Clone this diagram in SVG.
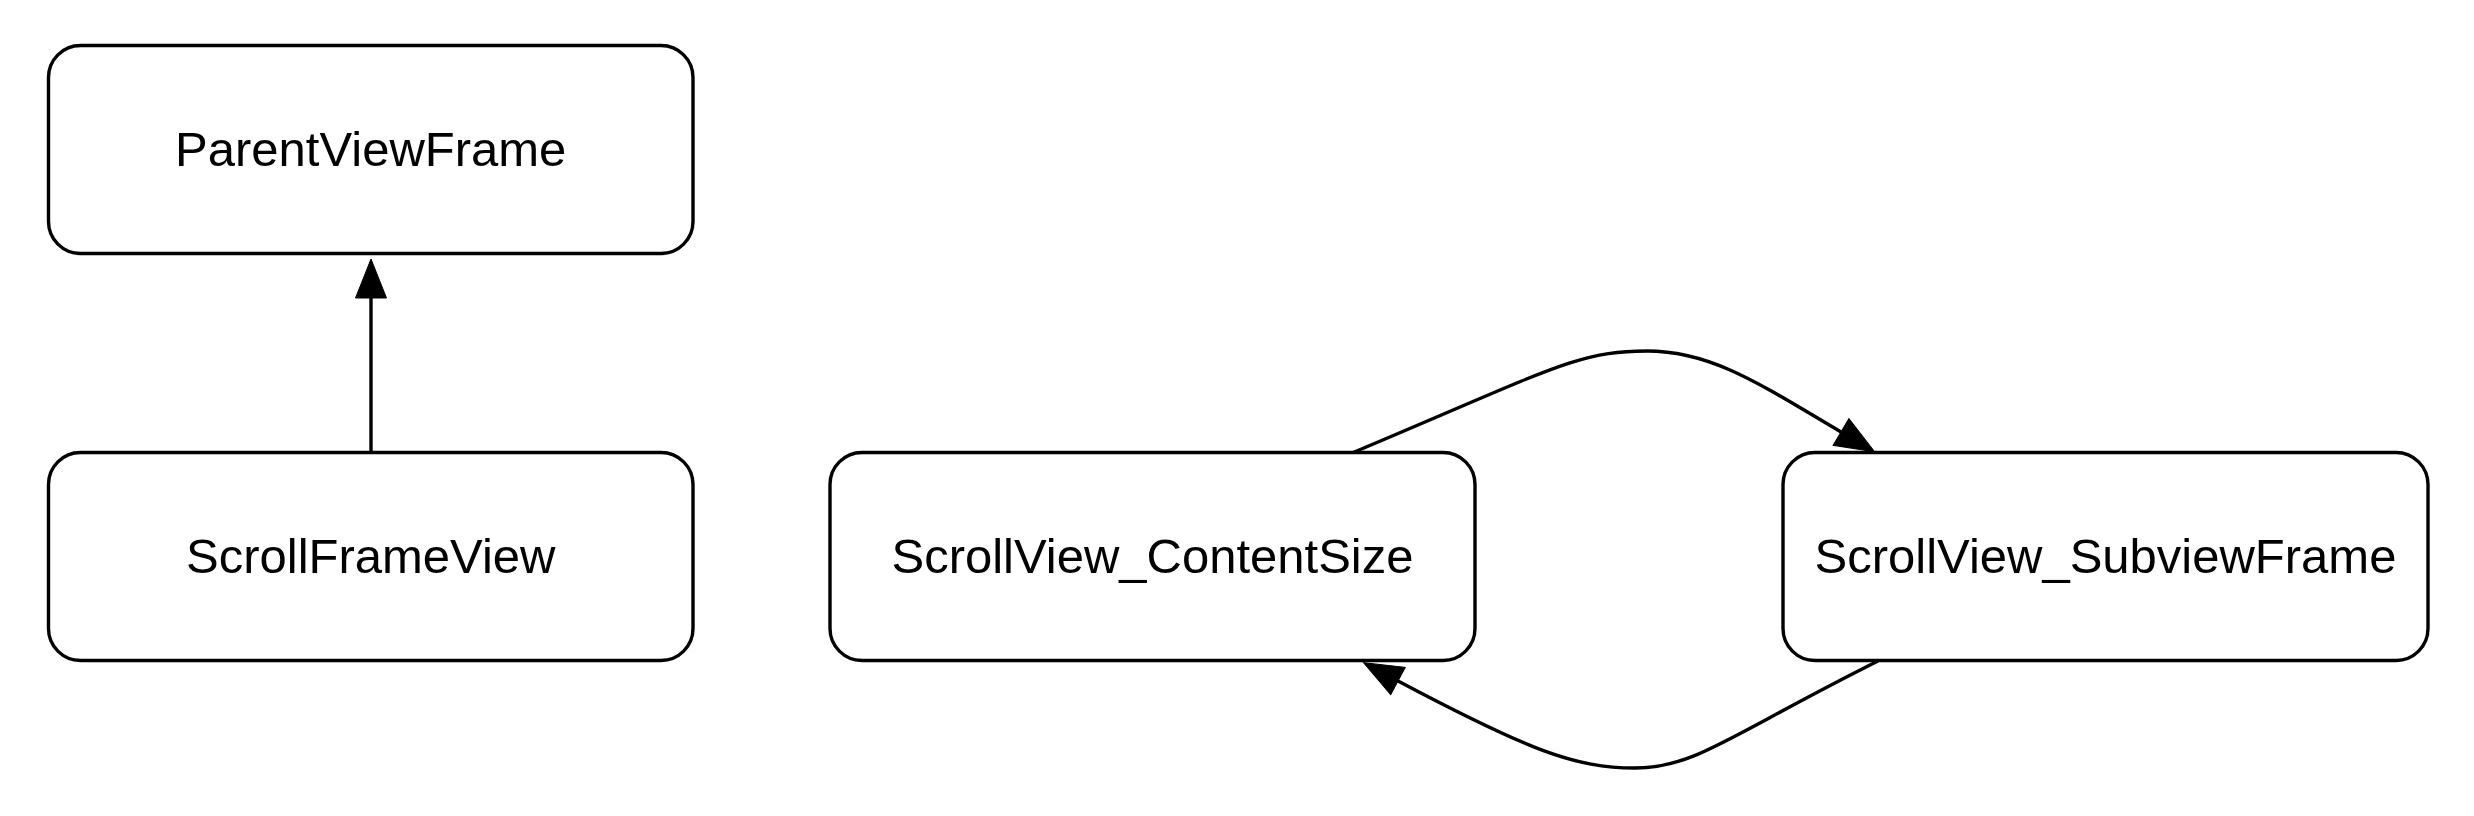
<svg xmlns="http://www.w3.org/2000/svg" width="2474" height="816" viewBox="0 0 2474 816">
  <style>
    .node rect { fill: #ffffff; stroke: #000000; stroke-width: 3.4; }
    .node text { font-family: "Liberation Sans", Arial, Helvetica, sans-serif; font-size: 49px; fill: #000000; text-anchor: middle; }
    .edge { fill: none; stroke: #000000; stroke-width: 3.4; marker-end: url(#arrow); }
  </style>
  <defs>
    <marker id="arrow" markerUnits="userSpaceOnUse" markerWidth="44" markerHeight="36" refX="0" refY="16" orient="auto" overflow="visible">
      <path d="M0,0.5 L39,16 L0,31.5 Z" fill="#000000" stroke="#000000" stroke-width="1"/>
    </marker>
  </defs>
  <rect x="0" y="0" width="2474" height="816" fill="#ffffff"/>

  <g id="connectors">
    <path id="e-scrollframe-parent" class="edge" d="M371,452.5 L371,298"/>
    <path id="e-content-subview" class="edge" d="M1352,453 C1552,369 1577,351 1647,351 C1712,351 1761,384.8 1841,432"/>
    <path id="e-subview-content" class="edge" d="M1878,661 C1728,736 1695,768 1635,768 C1575,768 1528,749.9 1398,681"/>
  </g>

  <g id="node-parentviewframe" class="node">
    <rect x="48.5" y="45.5" width="644.5" height="208" rx="32" ry="32"/>
    <text x="370.75" y="166">ParentViewFrame</text>
  </g>
  <g id="node-scrollframeview" class="node">
    <rect x="48.5" y="452.5" width="644.5" height="208" rx="32" ry="32"/>
    <text x="370.75" y="573">ScrollFrameView</text>
  </g>
  <g id="node-scrollview-contentsize" class="node">
    <rect x="830" y="452.5" width="645" height="208" rx="32" ry="32"/>
    <text x="1152.5" y="573">ScrollView_ContentSize</text>
  </g>
  <g id="node-scrollview-subviewframe" class="node">
    <rect x="1783" y="452.5" width="645" height="208" rx="32" ry="32"/>
    <text x="2105.5" y="573">ScrollView_SubviewFrame</text>
  </g>
</svg>
